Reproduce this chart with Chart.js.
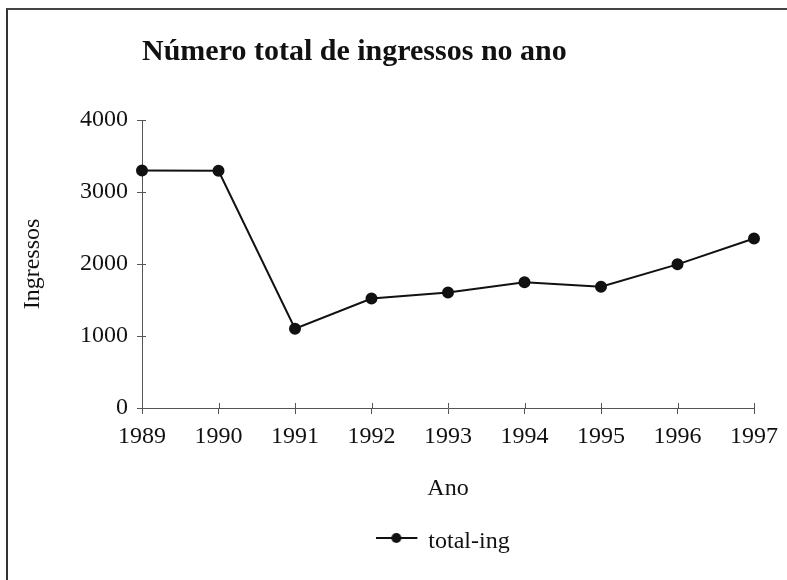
<!DOCTYPE html>
<html>
<head>
<meta charset="utf-8">
<script src="https://cdn.jsdelivr.net/npm/chart.js@4"></script>
<style>
  html, body { margin: 0; padding: 0; background: #fff; }
  #wrap { position: relative; width: 787px; height: 580px; overflow: hidden; background: #fff; }
  #frame { position: absolute; left: 6px; top: 8px; width: 800px; height: 600px;
           border-top: 2px solid #444; border-left: 2px solid #333; pointer-events: none; }
  canvas { position: absolute; left: 0; top: 0; }
</style>
</head>
<body>
<div id="wrap">
  <canvas id="c" width="787" height="580"></canvas>
  <div id="frame"></div>
</div>
<script>
const years = ['1989', '1990', '1991', '1992', '1993', '1994', '1995', '1996', '1997'];
const ingressos = [3300, 3295, 1100, 1520, 1605, 1745, 1685, 1995, 2355];
const yTicks = [0, 1000, 2000, 3000, 4000];

const FONT = "'Liberation Serif', 'DejaVu Serif', serif";
const AXIS = '#555';

function legendMarker() {
  const cv = document.createElement('canvas');
  cv.width = 50; cv.height = 20;
  const g = cv.getContext('2d');
  g.strokeStyle = '#111'; g.lineWidth = 2;
  g.beginPath(); g.moveTo(0, 6); g.lineTo(41, 6); g.stroke();
  g.fillStyle = '#111';
  g.beginPath(); g.arc(20, 6, 5, 0, Math.PI * 2); g.fill();
  return cv;
}

const innerTicks = {
  id: 'innerTicks',
  afterDraw(chart) {
    const ctx = chart.ctx;
    const x = chart.scales.x, y = chart.scales.y;
    ctx.save();
    ctx.strokeStyle = AXIS; ctx.lineWidth = 1;
    y.ticks.forEach((t, i) => {
      const py = Math.round(y.getPixelForTick(i)) + 0.5;
      ctx.beginPath(); ctx.moveTo(y.right, py); ctx.lineTo(y.right + 4, py); ctx.stroke();
    });
    x.ticks.forEach((t, i) => {
      const px = Math.round(x.getPixelForTick(i)) + 0.5;
      ctx.beginPath(); ctx.moveTo(px, x.top); ctx.lineTo(px, x.top - 5); ctx.stroke();
    });
    ctx.restore();
  }
};

new Chart(document.getElementById('c'), {
  type: 'line',
  data: {
    labels: years,
    datasets: [{
      label: 'total-ing',
      data: ingressos,
      borderColor: '#111',
      backgroundColor: '#111',
      borderWidth: 2,
      pointRadius: 5,
      pointBackgroundColor: '#111',
      pointBorderColor: '#111',
      tension: 0,
      clip: false
    }]
  },
  options: {
    responsive: false,
    animation: false,
    devicePixelRatio: 1,
    layout: { padding: { top: 0, left: 0, right: 33, bottom: 16 } },
    plugins: {
      title: {
        display: true,
        text: 'Número total de ingressos no ano',
        align: 'start',
        fullSize: false,
        color: '#111',
        font: { family: FONT, size: 30, weight: 'bold' },
        padding: { top: 34, bottom: 50 }
      },
      legend: {
        display: true,
        position: 'bottom',
        fullSize: false,
        labels: {
          color: '#111',
          font: { family: FONT, size: 24 },
          usePointStyle: true,
          pointStyleWidth: 30,
          padding: 10,
          generateLabels(chart) {
            return chart.data.datasets.map((ds, i) => ({
              text: ds.label,
              pointStyle: legendMarker(),
              fillStyle: '#111',
              strokeStyle: '#111',
              lineWidth: 0,
              datasetIndex: i,
              hidden: false,
              fontColor: '#111'
            }));
          }
        }
      },
      tooltip: { enabled: false }
    },
    scales: {
      x: {
        type: 'category',
        offset: false,
        grid: { display: true, drawOnChartArea: false, drawTicks: true, tickLength: 6, color: AXIS, lineWidth: 1 },
        border: { display: true, color: AXIS, width: 1 },
        ticks: { color: '#111', font: { family: FONT, size: 24 }, padding: 8, maxRotation: 0, autoSkip: false },
        title: { display: true, text: 'Ano', color: '#111', font: { family: FONT, size: 24 }, padding: { top: 0, bottom: 17 } },
        afterFit(scale) { scale.height = 112; }
      },
      y: {
        min: 0,
        max: 4000,
        afterBuildTicks(scale) { scale.ticks = yTicks.map(v => ({ value: v })); },
        grid: { display: true, drawOnChartArea: false, drawTicks: true, tickLength: 5, color: AXIS, lineWidth: 1 },
        border: { display: true, color: AXIS, width: 1 },
        ticks: { color: '#111', font: { family: FONT, size: 24 }, padding: 9, callback: v => String(v) },
        title: { display: true, text: 'Ingressos', color: '#111', font: { family: FONT, size: 24 }, padding: { top: 18, bottom: 0 } },
        afterFit(scale) { scale.width = 142; }
      }
    }
  },
  plugins: [innerTicks]
});
</script>
</body>
</html>
